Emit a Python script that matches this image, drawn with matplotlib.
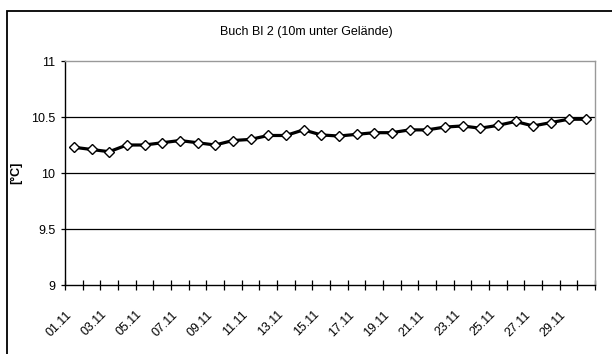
import matplotlib
matplotlib.use("Agg")
import matplotlib.pyplot as plt
from matplotlib.patches import Rectangle

plt.rcParams['font.family'] = ['Liberation Sans', 'DejaVu Sans']

# Daily temperatures in November, 10 m below ground
days = [f"{d:02d}.11" for d in range(1, 31)]
temps = [10.23, 10.21, 10.19, 10.25, 10.25, 10.27, 10.29, 10.27, 10.25, 10.29,
         10.30, 10.335, 10.335, 10.385, 10.34, 10.33, 10.345, 10.36, 10.36, 10.385,
         10.385, 10.41, 10.42, 10.40, 10.425, 10.46, 10.42, 10.45, 10.48, 10.48]
y_ticks = [9, 9.5, 10, 10.5, 11]
y_tick_labels = ["9", "9.5", "10", "10.5", "11"]
title = "Buch Bl 2 (10m unter Gelände)"
y_label = "[°C]"

W, H = 612, 354
fig = plt.figure(figsize=(W / 100, H / 100), dpi=100)

# outer chart frame
fig.patches.append(Rectangle((6.5 / W, -0.1), 1.2, (H - 10.5) / H + 0.1,
                             transform=fig.transFigure, fill=False,
                             edgecolor='black', linewidth=1.3))

ax = fig.add_axes([65 / W, (H - 285) / H, 530 / W, 224 / H])

n = len(days)
x = [i + 0.5 for i in range(n)]
ax.plot(x, temps, color='black', linewidth=2.3, marker='D', markersize=5.3,
        markerfacecolor='white', markeredgecolor='black', markeredgewidth=1.0,
        zorder=3)

ax.set_xlim(0, n)
ax.set_ylim(9, 11)
ax.set_yticks(y_ticks)
ax.set_yticklabels(y_tick_labels)
for yv in y_ticks[1:-1]:
    ax.axhline(yv, color='black', linewidth=0.9, zorder=1)

# category boundary ticks, label every other day at the category centre
ax.set_xticks(range(n + 1))
ax.set_xticklabels([])
ax.set_xticks(x[::2], minor=True)
ax.set_xticklabels(days[::2], minor=True, rotation=45, ha='right', va='top',
                   fontsize=9)
ax.tick_params(axis='x', which='major', direction='inout', length=7, width=0.9)
ax.tick_params(axis='x', which='minor', length=0, pad=17)
ax.tick_params(axis='y', direction='out', length=3, width=0.9, labelsize=9, pad=4)

for side in ('left', 'bottom'):
    ax.spines[side].set_color('black')
    ax.spines[side].set_linewidth(1.0)
for side in ('top', 'right'):
    ax.spines[side].set_color('#999999')
    ax.spines[side].set_linewidth(1.0)

fig.text(16 / W, (H - 173) / H, y_label, rotation=90, ha='center', va='center',
         fontsize=9, fontweight='bold')
fig.text(0.5, (H - 32) / H, title, ha='center', va='center', fontsize=9)

fig.savefig("out.png", dpi=100)
